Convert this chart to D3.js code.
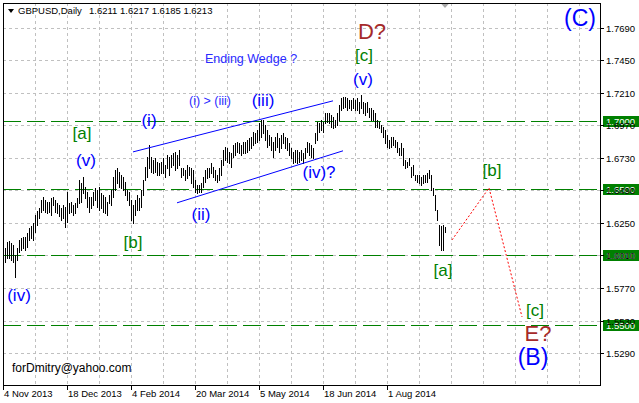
<!DOCTYPE html>
<html><head><meta charset="utf-8">
<script src="https://cdn.jsdelivr.net/npm/d3@7"></script>
<style>
html,body{margin:0;padding:0;background:#fff;}
svg{display:block;}
text{font-family:"Liberation Sans",Arial,sans-serif;}
</style></head>
<body>
<svg id="chart" width="639" height="403"></svg>
<script>
// ---- data ----
const symbol = "GBPUSD,Daily";
const ohlcLast = ["1.6211", "1.6217", "1.6185", "1.6213"];
const firstBarIndex = 1;
const highs = [
1.6067,1.6111,1.6118,1.6103,1.6089,1.6015,1.6067,1.6125,1.6140,1.6148,
1.6148,1.6177,1.6214,1.6229,1.6251,1.6310,1.6340,1.6362,1.6421,1.6443,
1.6421,1.6406,1.6406,1.6436,1.6443,1.6421,1.6399,1.6384,1.6362,1.6384,
1.6369,1.6480,1.6399,1.6406,1.6384,1.6399,1.6436,1.6569,1.6546,1.6591,
1.6517,1.6480,1.6443,1.6443,1.6480,1.6509,1.6495,1.6517,1.6473,1.6458,
1.6443,1.6406,1.6458,1.6495,1.6591,1.6642,1.6657,1.6628,1.6605,1.6591,
1.6554,1.6495,1.6480,1.6421,1.6384,1.6421,1.6458,1.6436,1.6495,1.6569,
1.6664,1.6738,1.6827,1.6738,1.6716,1.6731,1.6701,1.6694,1.6701,1.6731,
1.6679,1.6753,1.6738,1.6753,1.6768,1.6775,1.6753,1.6790,1.6657,1.6657,
1.6642,1.6679,1.6664,1.6657,1.6642,1.6569,1.6532,1.6532,1.6546,1.6591,
1.6642,1.6657,1.6657,1.6694,1.6664,1.6642,1.6605,1.6657,1.6716,1.6790,
1.6812,1.6805,1.6775,1.6768,1.6827,1.6842,1.6849,1.6842,1.6827,1.6849,
1.6849,1.6864,1.6879,1.6886,1.6923,1.6915,1.6938,1.6989,1.7011,1.7011,
1.6975,1.6938,1.6901,1.6886,1.6849,1.6886,1.6915,1.6879,1.6901,1.6915,
1.6886,1.6879,1.6842,1.6805,1.6775,1.6790,1.6790,1.6775,1.6790,1.6768,
1.6805,1.6849,1.6842,1.6827,1.6805,1.6915,1.6997,1.6989,1.7011,1.6997,
1.7063,1.7063,1.7063,1.7048,1.7034,1.7011,1.7063,1.7122,1.7174,1.7181,
1.7181,1.7174,1.7159,1.7159,1.7174,1.7159,1.7174,1.7144,1.7196,1.7144,
1.7137,1.7144,1.7100,1.7100,1.7085,1.7063,1.7011,1.6997,1.6975,1.6960,
1.6938,1.6901,1.6864,1.6886,1.6886,1.6864,1.6849,1.6805,1.6842,1.6805,
1.6716,1.6701,1.6731,1.6664,1.6679,1.6605,1.6605,1.6605,1.6591,1.6605,
1.6605,1.6620,1.6642,1.6605,1.6509,1.6458,1.6347,1.6236,1.6229,1.6236,
1.6217];
const lows = [
1.5963,1.5993,1.5993,1.5978,1.5963,1.5853,1.5978,1.6037,1.6052,1.6067,
1.6052,1.6074,1.6125,1.6140,1.6125,1.6185,1.6236,1.6288,1.6332,1.6347,
1.6332,1.6325,1.6332,1.6310,1.6384,1.6332,1.6325,1.6303,1.6273,1.6288,
1.6222,1.6259,1.6325,1.6332,1.6310,1.6325,1.6369,1.6399,1.6406,1.6473,
1.6436,1.6369,1.6332,1.6362,1.6384,1.6421,1.6369,1.6347,1.6362,1.6332,
1.6325,1.6310,1.6399,1.6384,1.6443,1.6495,1.6546,1.6517,1.6509,1.6495,
1.6458,1.6421,1.6384,1.6273,1.6251,1.6310,1.6347,1.6347,1.6369,1.6458,
1.6569,1.6591,1.6657,1.6628,1.6620,1.6628,1.6605,1.6605,1.6620,1.6620,
1.6591,1.6657,1.6605,1.6664,1.6679,1.6642,1.6657,1.6679,1.6591,1.6605,
1.6569,1.6583,1.6605,1.6546,1.6517,1.6480,1.6473,1.6480,1.6480,1.6517,
1.6554,1.6583,1.6591,1.6620,1.6591,1.6569,1.6554,1.6569,1.6605,1.6679,
1.6716,1.6701,1.6694,1.6664,1.6738,1.6753,1.6775,1.6768,1.6753,1.6768,
1.6768,1.6775,1.6790,1.6805,1.6827,1.6842,1.6849,1.6864,1.6886,1.6915,
1.6864,1.6812,1.6827,1.6790,1.6738,1.6790,1.6812,1.6775,1.6805,1.6842,
1.6805,1.6790,1.6753,1.6731,1.6694,1.6701,1.6694,1.6701,1.6716,1.6694,
1.6731,1.6775,1.6753,1.6738,1.6731,1.6842,1.6864,1.6923,1.6938,1.6923,
1.6989,1.6997,1.6989,1.6960,1.6952,1.6960,1.6975,1.7011,1.7085,1.7100,
1.7107,1.7085,1.7100,1.7085,1.7100,1.7085,1.7085,1.7063,1.7100,1.7063,
1.7048,1.7070,1.7034,1.7011,1.7011,1.6960,1.6960,1.6952,1.6923,1.6886,
1.6842,1.6812,1.6805,1.6812,1.6827,1.6812,1.6775,1.6753,1.6753,1.6679,
1.6657,1.6664,1.6679,1.6591,1.6605,1.6569,1.6554,1.6546,1.6532,1.6546,
1.6554,1.6554,1.6583,1.6495,1.6458,1.6347,1.6273,1.6089,1.6052,1.6052,
1.6185];
const priceTicks = [1.5290,1.5530,1.5770,1.6010,1.6250,1.6490,1.6730,1.6970,1.7210,1.7450,1.7690];
const dateLabels = ["4 Nov 2013","18 Dec 2013","4 Feb 2014","20 Mar 2014","5 May 2014","18 Jun 2014","1 Aug 2014"];
const dateLabelIndex = [0,32,64,96,128,160,192];
const levelLines = [1.7000, 1.6500, 1.6010, 1.5500];
const levelText = ["1.7000","1.6500","1.6010","1.5500"];
// wedge trend lines: [index, price] pairs
const wedgeUpper = [[65,1.6775],[165,1.7152]];
const wedgeLower = [[87,1.6399],[170,1.6783]];
const forecastPath = [[224.5,1.6125],[243,1.6509],[259.5,1.5557]];
// wave labels: text, index, price, size, colour class
const waveText  = ["(iv)","(v)","[a]","(i)","(i) > (iii)","Ending Wedge ?","(iii)","(ii)","[b]","(iv)?","D?","[c]","(v)","(C)","[b]","[a]","[c]","E?","(B)"];
const waveIndex = [8,41.5,39.5,73,103.5,124,130,99,65,158,184.5,180.5,180,288.5,244.5,220,266,267.5,265];
const wavePrice = [1.5712,1.6709,1.6908,1.7004,1.7152,1.7462,1.7152,1.6310,1.6103,1.6620,1.7661,1.7484,1.7307,1.7764,1.6635,1.5897,1.5602,1.5432,1.5262];
const waveKind  = ["b","b","g","b","s","s","b","b","g","b","r","g","b","B","g","g","g","r","B"];

// ---- layout ----
const svg = d3.select("#chart");
const L = 3, R = 600, T = 3, B = 385;
const x = d3.scaleLinear().domain([0, 1]).range([3, 5]);
const y = d3.scaleLinear().domain([1.5290, 1.7690]).range([353, 28]);

svg.append("defs").append("clipPath").attr("id","clip")
  .append("rect").attr("x",L).attr("y",T).attr("width",R-L).attr("height",B-T);

const plot = svg.append("g").attr("clip-path","url(#clip)");
const crisp = v => Math.round(v) + 0.5;

// grid
const gridIdx = d3.range(16, 300, 16);
plot.selectAll(".vg").data(gridIdx).join("line")
  .attr("x1", d => crisp(x(d))).attr("x2", d => crisp(x(d)))
  .attr("y1", T).attr("y2", B)
  .attr("stroke","#c0c0c0").attr("stroke-dasharray","3,3").attr("shape-rendering","crispEdges");
plot.selectAll(".hg").data(priceTicks).join("line")
  .attr("x1", L).attr("x2", R)
  .attr("y1", d => crisp(y(d))).attr("y2", d => crisp(y(d)))
  .attr("stroke","#c0c0c0").attr("stroke-dasharray","3,3").attr("shape-rendering","crispEdges");

// horizontal level lines
plot.selectAll(".lv").data(levelLines).join("line")
  .attr("x1", L).attr("x2", R)
  .attr("y1", d => crisp(y(d))).attr("y2", d => crisp(y(d)))
  .attr("stroke","#008000").attr("stroke-width",1).attr("stroke-dasharray","18,6")
  .attr("shape-rendering","crispEdges");

// bars
plot.selectAll(".bar").data(highs).join("line")
  .attr("x1", (d,i) => crisp(x(i+firstBarIndex))).attr("x2", (d,i) => crisp(x(i+firstBarIndex)))
  .attr("y1", d => Math.round(y(d)))
  .attr("y2", (d,i) => Math.round(y(lows[i])) + 1)
  .attr("stroke","#000").attr("stroke-width",1).attr("shape-rendering","crispEdges");

// wedge lines
const ln = d3.line().x(d => x(d[0])).y(d => y(d[1]));
[wedgeUpper, wedgeLower].forEach(p => plot.append("path").attr("d", ln(p))
  .attr("fill","none").attr("stroke","#0000ff").attr("stroke-width",1));
plot.append("path").attr("d", ln(forecastPath)).attr("fill","none")
  .attr("stroke","#ff0000").attr("stroke-width",1).attr("stroke-dasharray","2,2");

// wave labels
const styles = {
  b: {size:17, fill:"#0000ff"},
  g: {size:17, fill:"#008000"},
  s: {size:12.5, fill:"#2a2aff"},
  r: {size:22, fill:"#a52a2a"},
  B: {size:23, fill:"#0000ff"}
};
plot.selectAll(".wl").data(waveText).join("text")
  .attr("x", (d,i) => x(waveIndex[i]))
  .attr("y", (d,i) => y(wavePrice[i]))
  .attr("text-anchor","middle").attr("dominant-baseline","central")
  .attr("font-size", (d,i) => styles[waveKind[i]].size + "px")
  .attr("fill", (d,i) => styles[waveKind[i]].fill)
  .text(d => d);

// e-mail
plot.append("text").attr("x", 12).attr("y", 372)
  .attr("font-family","'Liberation Serif','Times New Roman',serif")
  .attr("font-size","12px").attr("fill","#000").text("forDmitry@yahoo.com");

// last-bar marker triangle
const lastX = x(highs.length - 1 + firstBarIndex);
svg.append("path").attr("d", `M${lastX-4.5},3 L${lastX+4.5},3 L${lastX},8 Z`).attr("fill","#a8a8a8");

// frame
svg.append("rect").attr("x",L+0.5).attr("y",T+0.5).attr("width",R-L).attr("height",B-T)
  .attr("fill","none").attr("stroke","#000").attr("shape-rendering","crispEdges");

// level price boxes
const boxes = svg.selectAll(".bx").data(levelLines).join("g");
boxes.append("rect").attr("x",603).attr("y", d => Math.round(y(d)) - 5).attr("width",36).attr("height",11).attr("fill","#008000");
boxes.append("text").attr("x",606).attr("y", d => Math.round(y(d)) + 4)
  .attr("font-size","9.5px").attr("fill","#fff").text((d,i) => levelText[i]);

// price axis ticks & labels
svg.selectAll(".pt").data(priceTicks).join("line")
  .attr("x1",600).attr("x2",604).attr("y1", d => crisp(y(d))).attr("y2", d => crisp(y(d)))
  .attr("stroke","#000").attr("shape-rendering","crispEdges");
svg.selectAll(".pl").data(priceTicks).join("text")
  .attr("x",606).attr("y", d => Math.round(y(d)) + 4)
  .attr("font-size","9.5px").attr("fill","#000").text(d => d.toFixed(4));

// date ticks & labels
svg.selectAll(".dt").data(dateLabelIndex).join("line")
  .attr("x1", d => crisp(x(d))).attr("x2", d => crisp(x(d))).attr("y1",385).attr("y2",390)
  .attr("stroke","#000").attr("shape-rendering","crispEdges");
svg.selectAll(".dl").data(dateLabels).join("text")
  .attr("x", (d,i) => Math.round(x(dateLabelIndex[i])) + 1).attr("y", 397)
  .attr("font-size","9.5px").attr("fill","#000").text(d => d);

// header
svg.append("path").attr("d","M8,9 L14,9 L11,13 Z").attr("fill","#000");
svg.append("text").attr("x",18).attr("y",14).attr("font-size","9.5px").attr("fill","#000")
  .text(symbol);
svg.append("text").attr("x",89).attr("y",14).attr("font-size","9.5px").attr("fill","#000")
  .text(ohlcLast.join(" "));
</script>
</body></html>
